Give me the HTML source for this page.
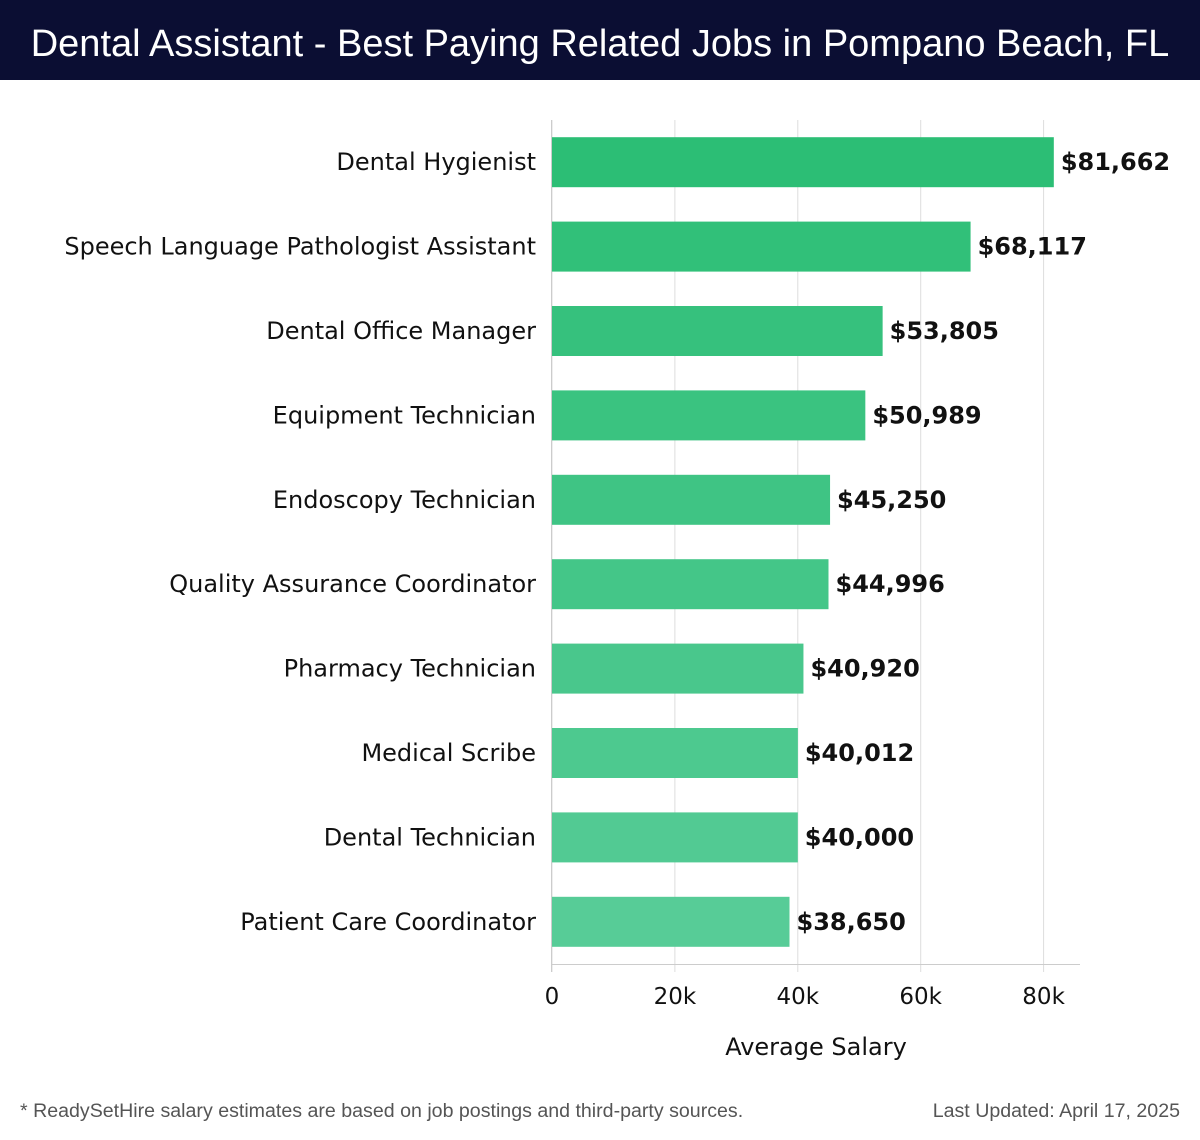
<!DOCTYPE html>
<html><head><meta charset="utf-8"><style>
body{margin:0;width:1200px;height:1140px;background:#fff;overflow:hidden;font-family:"DejaVu Sans","Liberation Sans",sans-serif}
#hdr{position:absolute;left:0;top:0;width:1200px;height:80px;background:#0b0e33;color:#fff;font-family:"Liberation Sans",sans-serif;font-size:38px;line-height:88px;text-align:center;white-space:nowrap}
svg{position:absolute;left:0;top:0}
.foot{position:absolute;top:1100px;font-family:"Liberation Sans",sans-serif;font-size:19.6px;color:#555}
</style></head><body>
<div id="hdr">Dental Assistant - Best Paying Related Jobs in Pompano Beach, FL</div>
<svg id="chart" width="1200" height="1140"></svg>
<div class="foot" style="left:20px">* ReadySetHire salary estimates are based on job postings and third-party sources.</div>
<div class="foot" style="right:20px">Last Updated: April 17, 2025</div>
<script>
const categories=["Dental Hygienist","Speech Language Pathologist Assistant","Dental Office Manager","Equipment Technician","Endoscopy Technician","Quality Assurance Coordinator","Pharmacy Technician","Medical Scribe","Dental Technician","Patient Care Coordinator"];
const salaries=[81662,68117,53805,50989,45250,44996,40920,40012,40000,38650];
const valueLabels=["$81,662","$68,117","$53,805","$50,989","$45,250","$44,996","$40,920","$40,012","$40,000","$38,650"];
const tickValues=[0,20000,40000,60000,80000];
const tickLabels=["0","20k","40k","60k","80k"];
const NS="http://www.w3.org/2000/svg";
const svg=document.getElementById('chart');
const x0=552,pxPerK=6.145,plotTop=120,band=84.4,bh=50;
const xs=v=>x0+v/1000*pxPerK;
const yc=i=>plotTop+band*i+band/2;
function mk(t,a){const e=document.createElementNS(NS,t);for(const k in a)e.setAttribute(k,a[k]);svg.appendChild(e);return e;}
tickValues.forEach((v,i)=>{
 const g=mk('line',{x1:xs(v),x2:xs(v),y1:plotTop,y2:972,stroke:'#ddd','stroke-width':1});
 
 
 const t=mk('text',{x:xs(v),y:1004,'text-anchor':'middle','font-size':23,fill:'#111'});
 t.textContent=tickLabels[i];
 
 
});
const ax=mk('line',{x1:x0,x2:1080,y1:964.5,y2:964.5,stroke:'#ccc','stroke-width':1});


const ay=mk('line',{x1:x0-0.5,x2:x0-0.5,y1:plotTop,y2:972,stroke:'#ccc','stroke-width':1});


const n=categories.length;
categories.forEach((c,i)=>{
 const f=i/(n-1);
 const r=Math.round(44+f*(87-44)),g=Math.round(190+f*(204-190)),b=Math.round(117+f*(151-117));
 const bar=mk('rect',{x:x0,y:yc(i)-bh/2,width:xs(salaries[i])-x0,height:bh,fill:`rgb(${r},${g},${b})`});
 
 
 const l=mk('text',{x:536,y:yc(i)+8,'text-anchor':'end','font-size':24,fill:'#111'});
 l.textContent=c;
 
 
 const v=mk('text',{x:xs(salaries[i])+7,y:yc(i)+8,'font-size':24,'font-weight':'bold',fill:'#111'});
 v.textContent=valueLabels[i];
 
 
});
const xt=mk('text',{x:816,y:1055,'text-anchor':'middle','font-size':24,fill:'#111'});
xt.textContent='Average Salary';


</script>
</body></html>
